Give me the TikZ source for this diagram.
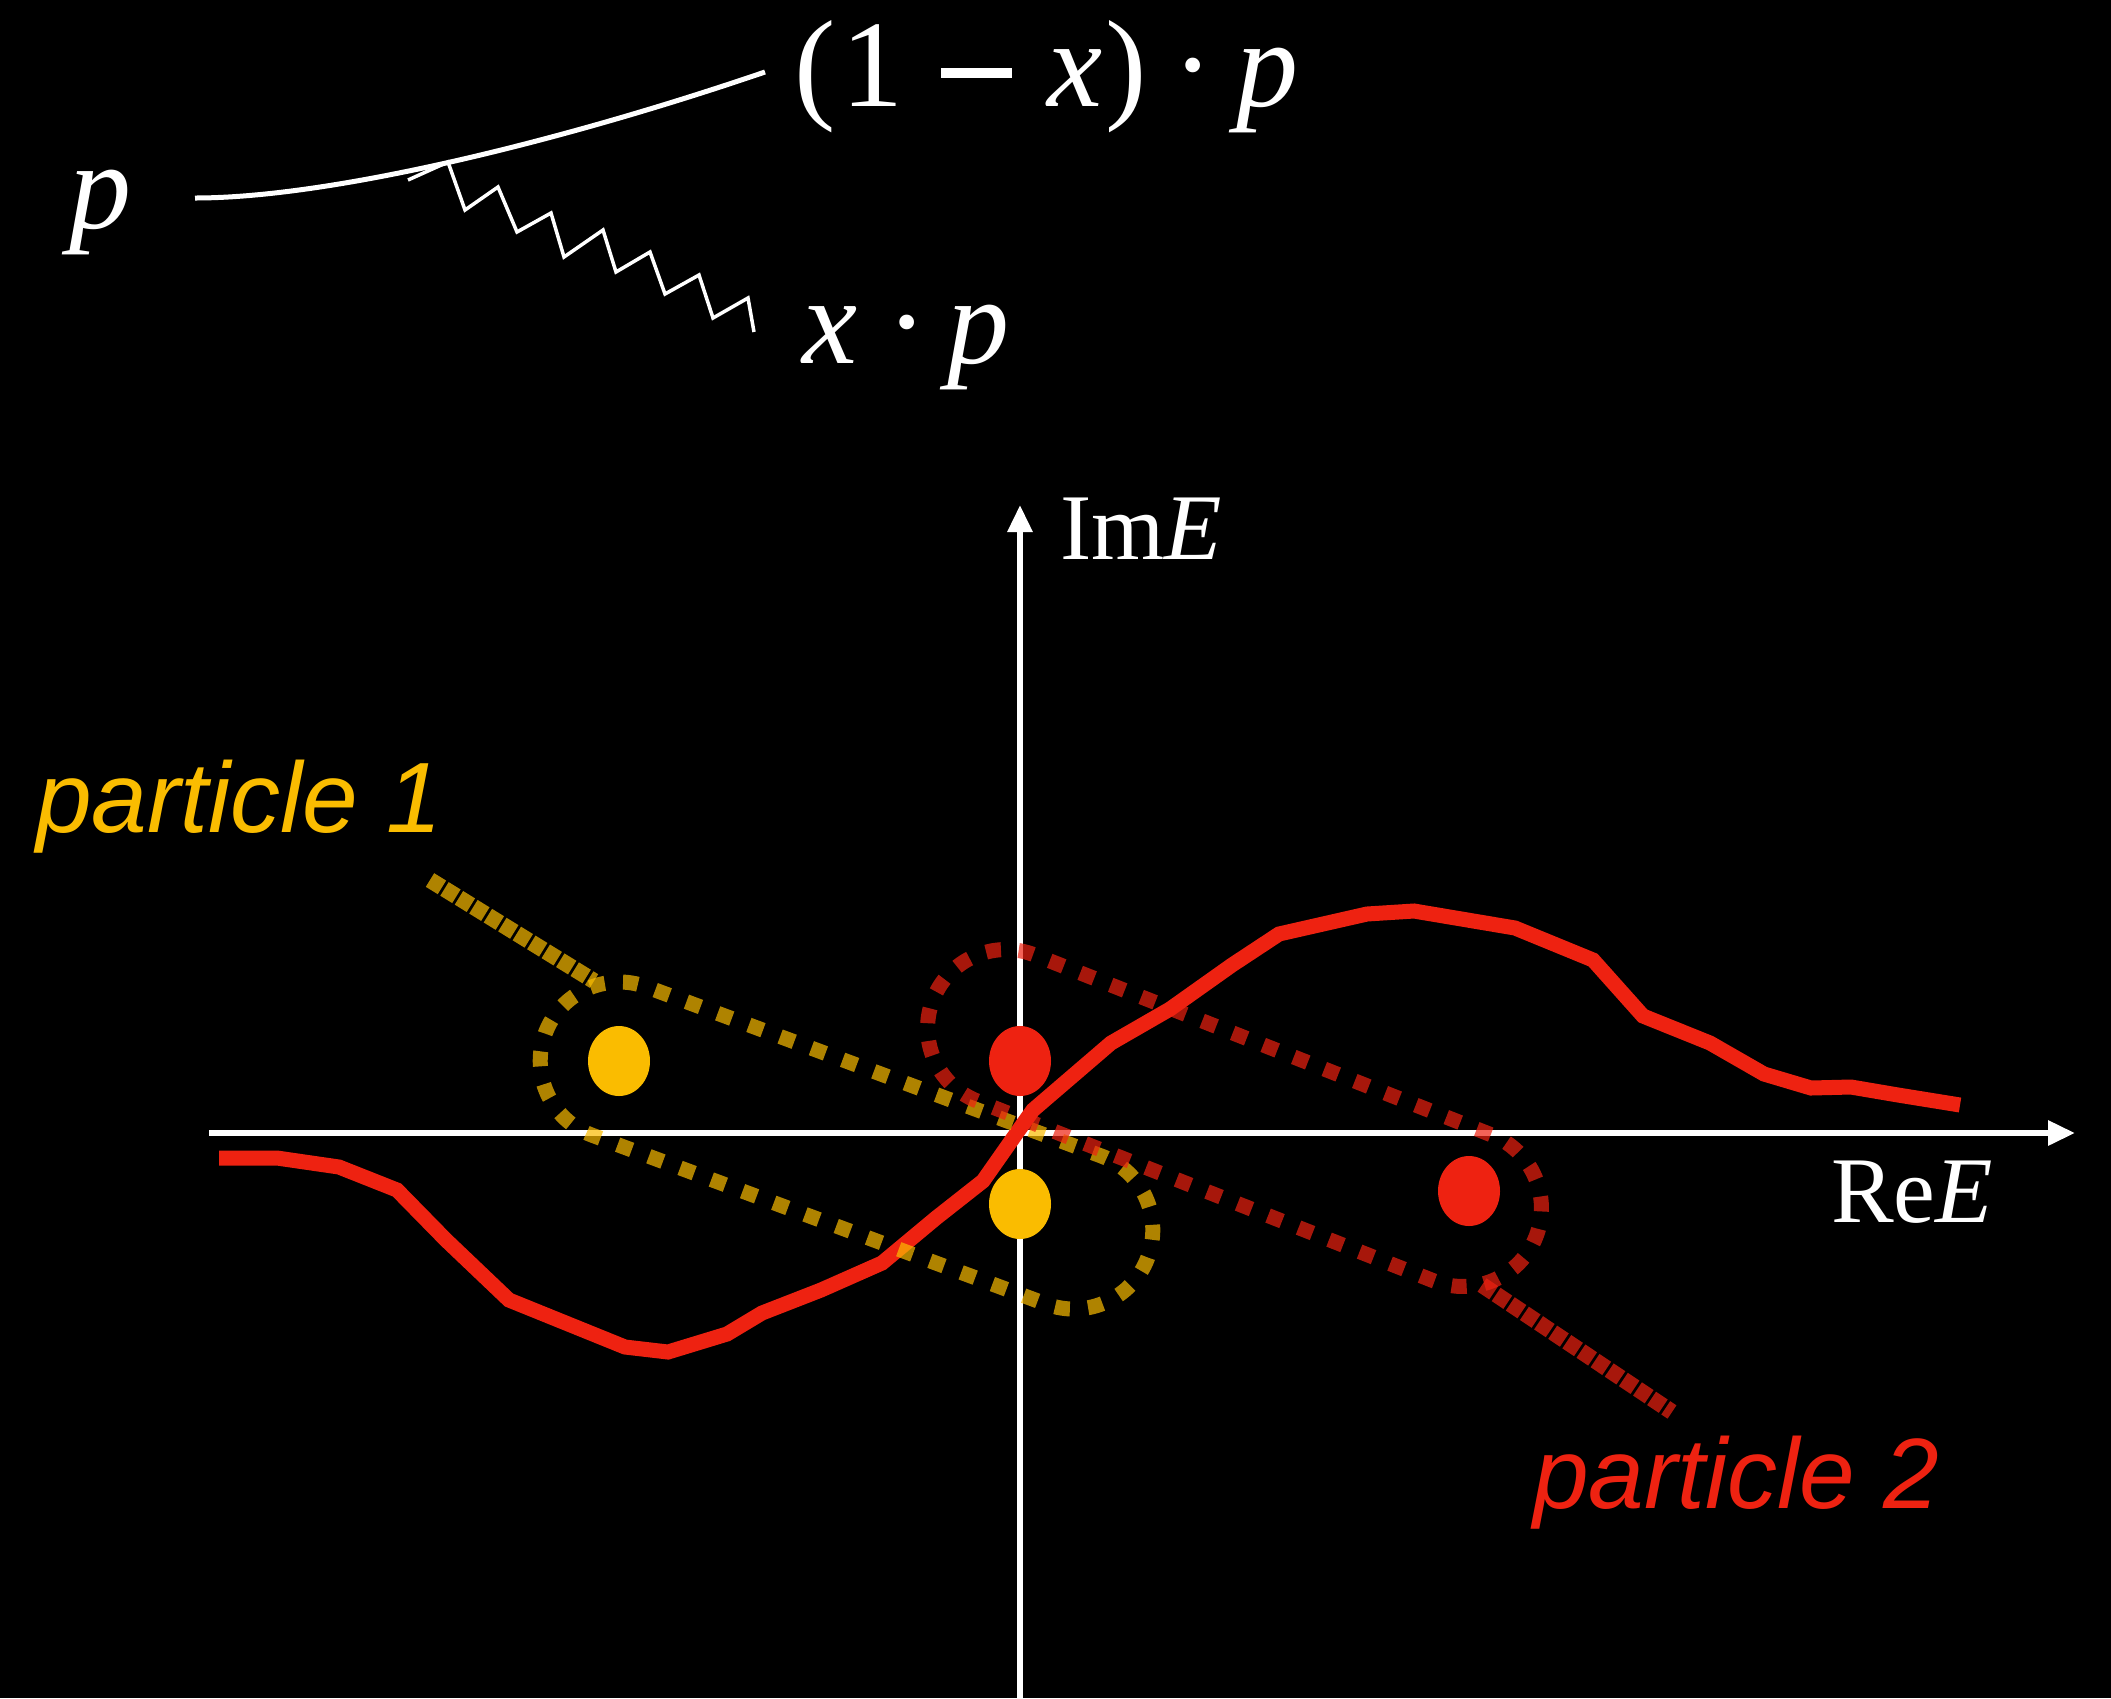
\documentclass[tikz,border=0pt]{standalone}
\usepackage{fontspec}
\setmainfont{Liberation Serif}
\newfontfamily\helv{Liberation Sans}
\usetikzlibrary{arrows.meta,shapes.misc,shapes.geometric}
\definecolor{ylw}{RGB}{250,188,0}
\definecolor{rd}{RGB}{238,34,17}
\newcommand{\mminus}{\rule[28pt]{71pt}{10pt}}
\begin{document}
\begin{tikzpicture}[x=1pt,y=-1pt,
  axisline/.style={draw=white,line width=6pt,-{Triangle[length=27pt,width=24pt]}},
  redcurve/.style={draw=rd,line width=15pt},
  dotnode/.style={ellipse,fill=#1,minimum width=62pt,minimum height=70pt,inner sep=0pt},
  capsule/.style={draw=#1,draw opacity=0.7,rounded rectangle,line width=15pt,inner sep=0pt},
  tailline/.style={draw=#1,draw opacity=0.7,line width=16pt,dash pattern=on 14pt off 3pt},
  lbl/.style={text=white,inner sep=0pt,anchor=base west},
  mathlbl/.style={lbl,font=\fontsize{124}{126}\selectfont},
  axlbl/.style={lbl,font=\fontsize{94}{96}\selectfont},
  plbl/.style={inner sep=0pt,anchor=base west,font=\helv\itshape\fontsize{100}{102}\selectfont},
]
\fill[black] (0,0) rectangle (2111,1698);
\useasboundingbox (0,0) rectangle (2111,1698);

% ---- top: splitting diagram
\coordinate (pin) at (195,198);
\coordinate (pout) at (765,72);
\coordinate (zstart) at (408,180);
\coordinate (zend) at (754,332);
\draw[white,line width=5pt] (pin) .. controls (330,198) and (560,142) .. (pout);
\draw[white,line width=3.5pt,line join=miter] (zstart) -- (448,162) -- (465,210) -- (498,187) -- (517,232) -- (551,213) -- (564,257) -- (603,230) -- (616,272) -- (650,252) -- (665,294) -- (699,275) -- (713,318) -- (748,298) -- (zend);
\node[mathlbl] (lp) at (69,228) {\textit{p}};
\node[mathlbl] (lout) at (794,106) {(\hspace{6pt}1\hspace{37pt}\mminus\hspace{36pt}\textit{x}\hspace{3pt})\hspace{26pt}·\hspace{22pt}\textit{p}};
\node[mathlbl] (lx) at (802,363) {\textit{x}\hspace{29pt}·\hspace{20pt}\textit{p}};

% ---- axes
\coordinate (ybot) at (1020,1698);
\coordinate (ytop) at (1020,505);
\coordinate (xleft) at (209,1133);
\coordinate (xright) at (2075,1133);
\draw[axisline] (ybot) -- (ytop);
\draw[axisline] (xleft) -- (xright);
\node[axlbl] (im) at (1060,559) {Im\textit{E}};
\node[axlbl] (re) at (1831,1222) {Re\textit{E}};

% ---- red curve
\draw[redcurve] (219,1158) -- (277,1158) -- (339,1167) -- (397,1190) -- (446,1240) -- (509,1300) -- (625,1347) -- (668,1352) -- (727,1334) -- (762,1313) -- (821,1290) -- (882,1263) -- (936,1218) -- (983,1181) -- (1023,1124) -- (1033,1110) -- (1111,1043) -- (1170,1009) -- (1232,965) -- (1279,934) -- (1367,914) -- (1414,911) -- (1515,928) -- (1593,960) -- (1643,1016) -- (1710,1043) -- (1764,1074) -- (1811,1088) -- (1851,1087) -- (1898,1095) -- (1960,1105);

% ---- poles
\node[dotnode=ylw] (y1) at (619,1061) {};
\node[dotnode=rd] (r1) at (1020,1061) {};
\node[dotnode=ylw] (y2) at (1020,1204) {};
\node[dotnode=rd] (r2) at (1469,1191) {};

% ---- dotted capsules and tails
\node[capsule=ylw,dash pattern=on 15pt off 18.32pt,minimum width=643pt,minimum height=158pt,rotate=-20.4] (capy) at (846.5,1145.5) {};
\node[capsule=rd,dash pattern=on 15pt off 17.78pt,minimum width=648pt,minimum height=157pt,rotate=-21.5] (capr) at (1234.5,1118) {};
\coordinate (ty1) at (430,880);
\coordinate (ty2) at (594,981);
\coordinate (tr1) at (1482,1285);
\coordinate (tr2) at (1672,1412);
\draw[tailline=ylw] (ty1) -- (ty2);
\draw[tailline=rd] (tr1) -- (tr2);

\node[plbl,text=ylw] (p1) at (36,832) {particle 1};
\node[plbl,text=rd] (p2) at (1533,1508) {particle 2};
\end{tikzpicture}
\end{document}
